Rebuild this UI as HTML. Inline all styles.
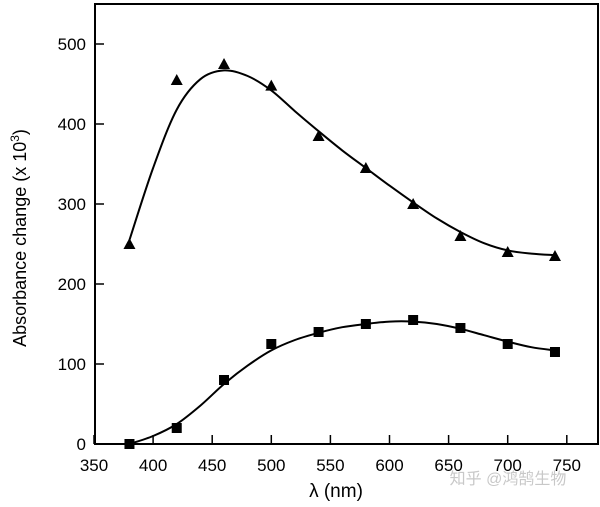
<!DOCTYPE html>
<html><head><meta charset="utf-8"><style>
body{margin:0;background:#fff}
svg text{font-family:"Liberation Sans",Arial,sans-serif;fill:#000}
</style></head><body>
<svg id="chart" width="600" height="502" viewBox="0 0 600 502" xmlns="http://www.w3.org/2000/svg"></svg>
<script>
const xTicks=[350,400,450,500,550,600,650,700,750];
const yTicks=[0,100,200,300,400,500];
const triX=[380,420,460,500,540,580,620,660,700,740];
const triY=[250,455,475,448,385,345,300,260,240,235];
const sqX=[380,420,460,500,540,580,620,660,700,740];
const sqY=[0,20,80,125,140,150,155,145,125,115];
const fitTopX=[380,400,420,440,460,480,500,520,540,560,580,600,620,640,660,680,700,720,740];
const fitTopY=[255,345,418,456,467,460,442,416,391,367,345,323,302,282,265,251,242,238,236];
const fitBotX=[380,400,420,440,460,480,500,520,540,560,580,600,620,640,660,680,700,720,740];
const fitBotY=[0,10,25,48,75,98,117,130,139,146,150,153,153,150,144,136,128,121,117];

const svg=document.getElementById('chart');
const NS='http://www.w3.org/2000/svg';
const L=95,R=598,T=4,B=444;
const sx=v=>94+(v-350)*(59.1/50);
const sy=v=>444-v*0.8;
function mk(tag,attrs,parent){const e=document.createElementNS(NS,tag);for(const k in attrs)e.setAttribute(k,attrs[k]);(parent||svg).appendChild(e);return e;}

const frame=mk('rect',{x:L,y:T,width:R-L,height:B-T,fill:'none',stroke:'#000','stroke-width':2});



xTicks.forEach(v=>{
  const t=mk('line',{x1:sx(v),x2:sx(v),y1:B,y2:B-9,stroke:'#000','stroke-width':1.5});
  
  
  const l=mk('text',{x:sx(v),y:471,'text-anchor':'middle','font-size':17});
  l.textContent=v;
  
  
});
yTicks.forEach(v=>{
  const t=mk('line',{x1:L,x2:L+9,y1:sy(v),y2:sy(v),stroke:'#000','stroke-width':1.5});
  
  
  const l=mk('text',{x:86,y:sy(v)+6,'text-anchor':'end','font-size':17});
  l.textContent=v;
  
  
});

const xt=mk('text',{x:336,y:497,'text-anchor':'middle','font-size':19});
xt.textContent='λ (nm)';


const yt=mk('text',{x:0,y:0,'text-anchor':'middle','font-size':18,transform:'translate(26,238) rotate(-90)'});
yt.innerHTML='Absorbance change (x 10<tspan dy="-7" font-size="12">3</tspan><tspan dy="7">)</tspan>';



function smooth(xs,ys){
  const p=xs.map((x,i)=>[sx(x),sy(ys[i])]);
  let d='M'+p[0][0]+','+p[0][1];
  for(let i=0;i<p.length-1;i++){
    const p0=p[i-1]||p[i],p1=p[i],p2=p[i+1],p3=p[i+2]||p2;
    const c1=[p1[0]+(p2[0]-p0[0])/6,p1[1]+(p2[1]-p0[1])/6];
    const c2=[p2[0]-(p3[0]-p1[0])/6,p2[1]-(p3[1]-p1[1])/6];
    d+=' C'+c1+' '+c2+' '+p2;
  }
  return d;
}
const c1=mk('path',{d:smooth(fitTopX,fitTopY),fill:'none',stroke:'#000','stroke-width':2});


const c2=mk('path',{d:smooth(fitBotX,fitBotY),fill:'none',stroke:'#000','stroke-width':2});



triX.forEach((x,i)=>{
  const cx=sx(x),cy=sy(triY[i]);
  const m=mk('polygon',{points:`${cx-6},${cy+5} ${cx+6},${cy+5} ${cx},${cy-6}`,fill:'#000'});
  
  
});
sqX.forEach((x,i)=>{
  const cx=sx(x),cy=sy(sqY[i]);
  const m=mk('rect',{x:cx-5,y:cy-5,width:10,height:10,fill:'#000'});
  
  
});
const w=mk('text',{x:508,y:484,'text-anchor':'middle','font-size':16,style:'fill:#c8c8c8;font-family:"Liberation Sans","Noto Sans CJK SC",sans-serif'});
w.textContent='知乎 @鸿鹄生物';


</script>
</body></html>
